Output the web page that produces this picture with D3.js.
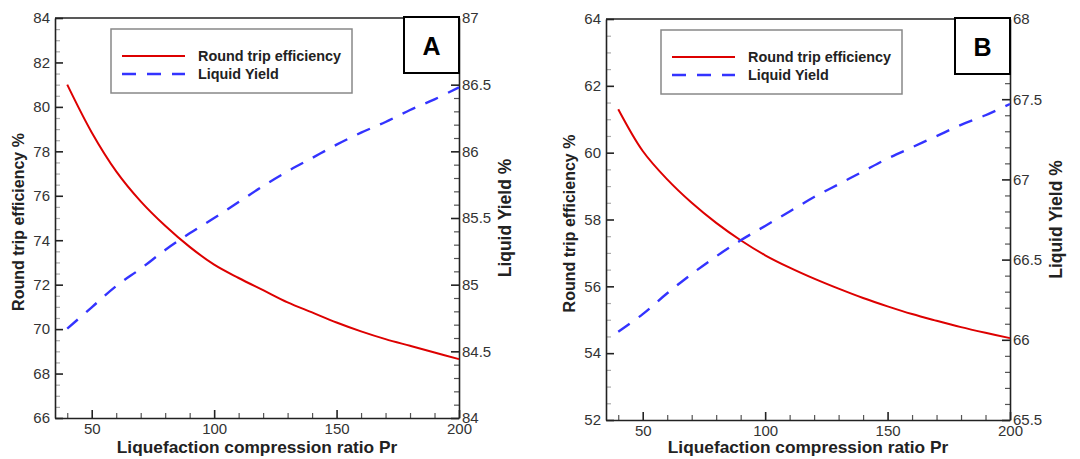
<!DOCTYPE html>
<html>
<head>
<meta charset="utf-8">
<script src="https://cdn.jsdelivr.net/npm/d3@7"></script>
<style>
  body { margin: 0; background: #fff; }
  svg { display: block; font-family: "Liberation Sans", Arial, sans-serif; }
  .tick text { fill: #333; font-size: 15px; }
</style>
</head>
<body>
<div class="canvas"></div>
<script>

// compression ratio Pr (x) for both panels
var pr = [40, 50, 60, 70, 80, 90, 100, 110, 120, 130, 140, 150, 160, 170, 180, 190, 200];

// panel A
var effA   = [81.0, 78.85, 77.1, 75.75, 74.65, 73.7, 72.9, 72.3, 71.75, 71.2, 70.75, 70.3, 69.9, 69.55, 69.25, 68.95, 68.65];
var yieldA = [84.67, 84.83, 84.99, 85.12, 85.26, 85.385, 85.5, 85.62, 85.74, 85.85, 85.95, 86.05, 86.14, 86.22, 86.31, 86.39, 86.48];

// panel B
var effB   = [61.3, 60.05, 59.2, 58.5, 57.9, 57.38, 56.93, 56.56, 56.23, 55.93, 55.65, 55.4, 55.17, 54.97, 54.78, 54.61, 54.45];
var yieldB = [66.05, 66.16, 66.29, 66.41, 66.52, 66.62, 66.71, 66.8, 66.89, 66.97, 67.05, 67.13, 67.2, 67.27, 67.34, 67.4, 67.47];

var xTicks = [50, 100, 150, 200];
var leftTicksA  = [66, 68, 70, 72, 74, 76, 78, 80, 82, 84];
var rightTicksA = [84, 84.5, 85, 85.5, 86, 86.5, 87];
var leftTicksB  = [52, 54, 56, 58, 60, 62, 64];
var rightTicksB = [65.5, 66, 66.5, 67, 67.5, 68];

var legendLabels = ["Round trip efficiency", "Liquid Yield"];
var xTitle = "Liquefaction compression ratio Pr";
var leftTitle = "Round trip efficiency %";
var rightTitle = "Liquid Yield %";

var RED = "#dd0000";
var BLUE = "#3333ff";
var DASH = "14,11";

var W = 1080, H = 459;

var svg = d3.select(".canvas")
  .append("svg")
  .attr("width", W)
  .attr("height", H);

var fmt = d3.format("~g");

var drawPanel = function(p) {

  var x = d3.scaleLinear().domain([35, 200]).range([p.left, p.right]);
  var yl = d3.scaleLinear().domain(p.leftDomain).range([p.bottom, p.top]);
  var yr = d3.scaleLinear().domain(p.rightDomain).range([p.bottom, p.top]);

  var g = svg.append("g");

  // minor ticks first, majors on top
  g.append("g")
    .attr("class", "minor")
    .attr("transform", "translate(0," + p.bottom + ")")
    .call(d3.axisBottom(x).tickValues(d3.range(40, 200, 10).filter(function(v) { return v % 50; }))
      .tickSize(-5).tickFormat(""));

  g.append("g")
    .attr("class", "minor left")
    .attr("transform", "translate(" + p.left + ",0)")
    .call(d3.axisLeft(yl).tickValues(d3.range(p.leftDomain[0], p.leftDomain[1], 0.5).filter(function(v) { return v % 2; }))
      .tickSize(-5).tickFormat(""));

  g.append("g")
    .attr("class", "minor")
    .attr("transform", "translate(" + p.right + ",0)")
    .call(d3.axisRight(yr).tickValues(d3.range(0, 25).map(function(i) { return +(p.rightDomain[0] + i * 0.1).toFixed(1); })
        .filter(function(v) { return v < p.rightDomain[1] && Math.round(v * 10) % 5; }))
      .tickSize(-5).tickFormat(""));

  g.selectAll(".minor .domain").remove();
  g.selectAll(".minor line").attr("stroke", "#555").attr("stroke-width", 1.2);
  g.selectAll(".minor.left line").attr("stroke", "#aaa");

  g.append("g")
    .attr("transform", "translate(0," + p.bottom + ")")
    .call(d3.axisBottom(x).tickValues(xTicks).tickSize(-8).tickSizeOuter(0).tickPadding(5).tickFormat(fmt));

  g.append("g")
    .attr("transform", "translate(" + p.left + ",0)")
    .call(d3.axisLeft(yl).tickValues(p.leftTicks).tickSize(-8).tickSizeOuter(0).tickPadding(5).tickFormat(fmt));

  g.append("g")
    .attr("transform", "translate(" + p.right + ",0)")
    .call(d3.axisRight(yr).tickValues(p.rightTicks).tickSize(-8).tickSizeOuter(0).tickPadding(3).tickFormat(fmt));

  g.selectAll(".domain").attr("stroke", "#222").attr("stroke-width", 1.6);
  g.selectAll(".tick line").filter(function() { return !this.closest(".minor"); })
    .attr("stroke", "#222").attr("stroke-width", 1.6);

  // top frame line
  g.append("line")
    .attr("x1", p.left).attr("x2", p.right)
    .attr("y1", p.top).attr("y2", p.top)
    .attr("stroke", "#222").attr("stroke-width", 1.6);

  // curves
  var lineL = d3.line()
    .x(function(d, i) { return x(pr[i]); })
    .y(function(d) { return yl(d); })
    .curve(d3.curveCatmullRom.alpha(0.5));

  var lineR = d3.line()
    .x(function(d, i) { return x(pr[i]); })
    .y(function(d) { return yr(d); })
    .curve(d3.curveCatmullRom.alpha(0.5));

  g.append("path")
    .datum(p.eff)
    .attr("d", lineL)
    .attr("fill", "none")
    .attr("stroke", RED)
    .attr("stroke-width", 2);

  g.append("path")
    .datum(p.yield)
    .attr("d", lineR)
    .attr("fill", "none")
    .attr("stroke", BLUE)
    .attr("stroke-width", 2.4)
    .attr("stroke-dasharray", DASH);

  // titles
  g.append("text")
    .attr("x", (p.left + p.right) / 2)
    .attr("y", 453)
    .attr("text-anchor", "middle")
    .attr("font-weight", "bold")
    .attr("font-size", 17.3)
    .attr("fill", "#222")
    .text(xTitle);

  g.append("text")
    .attr("transform", "translate(" + (p.left - 31) + "," + ((p.top + p.bottom) / 2 + 4) + ")rotate(-90)")
    .attr("text-anchor", "middle")
    .attr("font-weight", "bold")
    .attr("font-size", 16)
    .attr("fill", "#222")
    .text(leftTitle);

  g.append("text")
    .attr("transform", "translate(" + (p.right + 52) + "," + ((p.top + p.bottom) / 2) + ")rotate(-90)")
    .attr("text-anchor", "middle")
    .attr("font-weight", "bold")
    .attr("font-size", 17.5)
    .attr("fill", "#222")
    .text(rightTitle);

  // legend
  var lg = g.append("g").attr("transform", "translate(" + p.legendX + "," + (p.top + 11) + ")");
  lg.append("rect")
    .attr("width", 241).attr("height", 64)
    .attr("fill", "#fff")
    .attr("stroke", "#888")
    .attr("stroke-width", 1.5);

  var items = [
    { label: legendLabels[0], color: RED, dash: null, w: 2 },
    { label: legendLabels[1], color: BLUE, dash: DASH, w: 2.4 }
  ];

  var row = lg.selectAll("g.item")
    .data(items)
    .enter().append("g")
    .attr("class", "item")
    .attr("transform", function(d, i) { return "translate(0," + (27 + i * 18) + ")"; });

  row.append("line")
    .attr("x1", 11).attr("x2", 74)
    .attr("stroke", function(d) { return d.color; })
    .attr("stroke-width", function(d) { return d.w; })
    .attr("stroke-dasharray", function(d) { return d.dash; });

  row.append("text")
    .attr("x", 87)
    .attr("y", 5)
    .attr("font-weight", "bold")
    .attr("font-size", 14.4)
    .attr("fill", "#222")
    .text(function(d) { return d.label; });

  // panel letter
  g.append("rect")
    .attr("x", p.right - 55).attr("y", p.top - 1)
    .attr("width", 55).attr("height", 56)
    .attr("fill", "#fff")
    .attr("stroke", "#000")
    .attr("stroke-width", 2);

  g.append("text")
    .attr("x", p.right - 27.5)
    .attr("y", p.top + 37)
    .attr("text-anchor", "middle")
    .attr("font-weight", "bold")
    .attr("font-size", 25)
    .attr("fill", "#000")
    .text(p.letter);
};

drawPanel({
  letter: "A", left: 55, right: 459, top: 18, bottom: 418,
  leftDomain: [66, 84], rightDomain: [84, 87],
  leftTicks: leftTicksA, rightTicks: rightTicksA,
  eff: effA, yield: yieldA, legendX: 111
});

drawPanel({
  letter: "B", left: 606, right: 1010, top: 19, bottom: 420,
  leftDomain: [52, 64], rightDomain: [65.5, 68],
  leftTicks: leftTicksB, rightTicks: rightTicksB,
  eff: effB, yield: yieldB, legendX: 661
});

</script>
</body>
</html>
